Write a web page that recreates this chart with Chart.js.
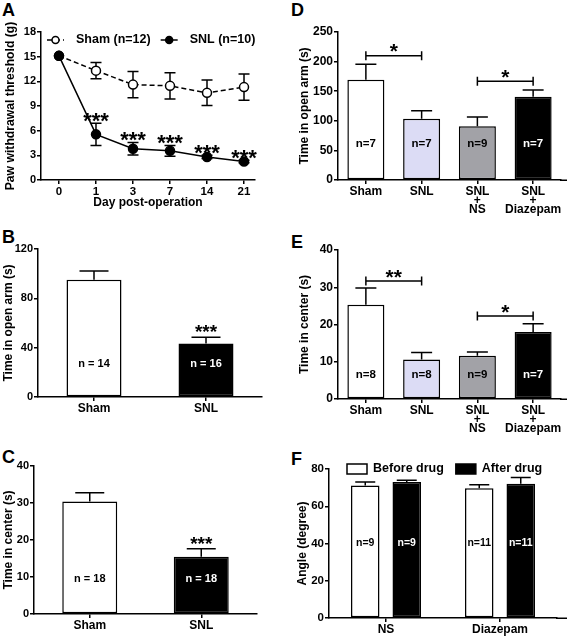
<!DOCTYPE html>
<html><head><meta charset="utf-8">
<script src="https://cdn.jsdelivr.net/npm/chart.js@4.4.1/dist/chart.umd.min.js"></script>
<style>
html,body{margin:0;padding:0;background:#fff;}
body{width:567px;height:637px;position:relative;overflow:hidden;}
canvas{position:absolute;}
.lt{position:absolute;font:bold 18px "Liberation Sans",Arial,sans-serif;line-height:18px;color:#000;}
</style></head><body>
<div class="lt" style="left:2px;top:1px">A</div>
<div class="lt" style="left:2px;top:228px">B</div>
<div class="lt" style="left:2px;top:448px">C</div>
<div class="lt" style="left:291px;top:1px">D</div>
<div class="lt" style="left:291px;top:233px">E</div>
<div class="lt" style="left:291px;top:450px">F</div>
<canvas id="cA" width="262" height="197" style="left:0;top:18px"></canvas>
<canvas id="cB" width="272" height="185" style="left:0;top:235px"></canvas>
<canvas id="cC" width="270" height="185" style="left:0;top:452px"></canvas>
<canvas id="cD" width="277" height="200" style="left:290px;top:18px"></canvas>
<canvas id="cE" width="277" height="202" style="left:290px;top:236px"></canvas>
<canvas id="cF" width="277" height="182" style="left:290px;top:455px"></canvas>
<script>
// ---------------- DATA ----------------
const dayLabels = ['0', '1', '3', '7', '14', '21'];
const shamPWT = [15.1, 13.3, 11.6, 11.45, 10.6, 11.3];
const shamPWTErr = [0, 1.0, 1.6, 1.6, 1.55, 1.6];
const snlPWT = [15.1, 5.55, 3.8, 3.55, 2.8, 2.25];
const snlPWTErr = [0, 1.35, 0.75, 0.65, 0.2, 0.15];
const snlPWTSig = ['', '***', '***', '***', '***', '***'];

const groupsBC = ['Sham', 'SNL'];
const openArmB = [95.1, 43.3];
const openArmBErr = [7.0, 5.2];
const nB = ['n = 14', 'n = 16'];
const sigB = ['', '***'];

const centerC = [30.4, 15.5];
const centerCErr = [2.4, 2.15];
const nC = ['n = 18', 'n = 18'];
const sigC = ['', '***'];

const groupsDE = [['Sham'], ['SNL'], ['SNL', '+', 'NS'], ['SNL', '+', 'Diazepam']];
const openArmD = [169.5, 103.6, 90.7, 140.8];
const openArmDErr = [25.9, 13.5, 15.7, 11.2];
const nD = ['n=7', 'n=7', 'n=9', 'n=7'];
const compD = [[0, 1, '*'], [2, 3, '*']];

const centerE = [25.3, 10.6, 11.6, 18.0];
const centerEErr = [4.5, 1.9, 1.0, 2.2];
const nE = ['n=8', 'n=8', 'n=9', 'n=7'];
const compE = [[0, 1, '**'], [2, 3, '*']];

const groupsF = ['NS', 'Diazepam'];
const beforeF = [71.2, 69.6];
const beforeFErr = [1.8, 1.9];
const afterF = [73.0, 72.1];
const afterFErr = [0.9, 3.4];
const nBeforeF = ['n=9', 'n=11'];
const nAfterF = ['n=9', 'n=11'];

// ---------------- STYLE ----------------
const FONT = '"Liberation Sans", Arial, sans-serif';
Chart.defaults.font.family = FONT;
Chart.defaults.font.weight = 'bold';
Chart.defaults.color = '#000';
Chart.defaults.animation = false;
Chart.defaults.plugins.legend.display = false;
Chart.defaults.plugins.tooltip.enabled = false;
const LW = 1.5;
const barColorsDE = ['#ffffff', '#dcdcf5', '#a2a2a7', '#000000'];

const annot = {
  id: 'annot',
  beforeDatasetsDraw(chart, args, o) {
    const ctx = chart.ctx, ys = chart.scales.y;
    ctx.save();
    ctx.strokeStyle = '#000'; ctx.lineWidth = LW;
    if (o.extendX) {
      const yb = Math.round(chart.chartArea.bottom) + 0.25;
      ctx.beginPath(); ctx.moveTo(chart.chartArea.right - 1, yb); ctx.lineTo(chart.width, yb); ctx.stroke();
    }
    chart.data.datasets.forEach((ds, di) => {
      if (!ds.errors) return;
      chart.getDatasetMeta(di).data.forEach((el, i) => {
        const e = ds.errors[i]; if (!e) return;
        const raw = ds.data[i]; const v = typeof raw === 'object' ? raw.y : raw;
        const yt = ys.getPixelForValue(v + e);
        const yb = ys.getPixelForValue(o.both ? v - e : v);
        const h = o.cap / 2;
        ctx.beginPath();
        ctx.moveTo(el.x, yb); ctx.lineTo(el.x, yt);
        ctx.moveTo(el.x - h, yt); ctx.lineTo(el.x + h, yt);
        if (o.both) { ctx.moveTo(el.x - h, yb); ctx.lineTo(el.x + h, yb); }
        ctx.stroke();
      });
    });
    ctx.restore();
  },
  afterDatasetsDraw(chart, args, o) {
    const ctx = chart.ctx, ys = chart.scales.y, xs = chart.scales.x;
    ctx.save();
    chart.data.datasets.forEach((ds, di) => {
      const meta = chart.getDatasetMeta(di);
      meta.data.forEach((el, i) => {
        const raw = ds.data[i]; const v = typeof raw === 'object' ? raw.y : raw;
        if (ds.nLabels) {
          const bg = Array.isArray(ds.backgroundColor) ? ds.backgroundColor[i] : ds.backgroundColor;
          ctx.font = 'bold ' + o.nSize + 'px ' + FONT;
          ctx.fillStyle = (bg === '#000000' || bg === '#000') ? '#fff' : '#000';
          ctx.textAlign = 'center'; ctx.textBaseline = 'middle';
          ctx.fillText(ds.nLabels[i], el.x, ys.getPixelForValue(o.nAt));
        }
        if (ds.sig && ds.sig[i]) {
          const top = ys.getPixelForValue(v + (ds.errors ? ds.errors[i] : 0));
          ctx.font = 'bold ' + o.sigSize + 'px ' + FONT;
          ctx.fillStyle = '#000'; ctx.textAlign = 'center'; ctx.textBaseline = 'alphabetic';
          ctx.fillText(ds.sig[i], el.x, top - o.sigGap + 0.56 * o.sigSize);
        }
      });
    });
    (o.brackets || []).forEach((b, k) => {
      const x1 = xs.getPixelForValue(b[0]), x2 = xs.getPixelForValue(b[1]);
      const y = ys.getPixelForValue(o.levels[k]);
      ctx.strokeStyle = '#000'; ctx.lineWidth = LW;
      ctx.beginPath();
      ctx.moveTo(x1, y); ctx.lineTo(x2, y);
      ctx.moveTo(x1, y - 4.5); ctx.lineTo(x1, y + 4.5);
      ctx.moveTo(x2, y - 4.5); ctx.lineTo(x2, y + 4.5);
      ctx.stroke();
      ctx.font = 'bold ' + o.sigSize + 'px ' + FONT;
      ctx.fillStyle = '#000'; ctx.textAlign = 'center'; ctx.textBaseline = 'alphabetic';
      ctx.fillText(b[2], (x1 + x2) / 2, y - 9 + 0.56 * o.sigSize);
    });
    if (o.legend) {
      const L = o.legend;
      let x = chart.chartArea.left + L.x0;
      const y = chart.chartArea.top + L.dy;
      ctx.font = 'bold ' + L.size + 'px ' + FONT;
      chart.data.datasets.forEach(ds => {
        ctx.strokeStyle = '#000'; ctx.lineWidth = LW;
        if (L.kind === 'line') {
          ctx.setLineDash(ds.borderDash || []);
          ctx.beginPath(); ctx.moveTo(x, y); ctx.lineTo(x + L.sw, y); ctx.stroke();
          ctx.setLineDash([]);
          ctx.beginPath(); ctx.arc(x + L.sw / 2, y, L.r, 0, Math.PI * 2);
          ctx.fillStyle = ds.pointBackgroundColor; ctx.fill(); ctx.stroke();
        } else {
          ctx.fillStyle = ds.backgroundColor;
          ctx.fillRect(x, y - L.bh / 2, L.sw, L.bh);
          ctx.strokeRect(x, y - L.bh / 2, L.sw, L.bh);
        }
        x += L.sw + L.gap;
        ctx.fillStyle = '#000'; ctx.textAlign = 'left'; ctx.textBaseline = 'middle';
        ctx.fillText(ds.label, x, y);
        x += ctx.measureText(ds.label).width + L.gap2;
      });
    }
    ctx.restore();
  }
};

// geometry helper: canvas box (cx,cy,cw,ch) and plot box (L,T,R,B) in page px
function geo(g) {
  return {
    padding: { left: 0, top: g.T - g.cy, right: g.cx + g.cw - g.R, bottom: 0 },
    yw: g.L - g.cx,
    xh: g.cy + g.ch - g.B
  };
}
function yAxis(min, max, step, title, tsize, titleX, g, tickSize) {
  const lh = tsize * 1.2;
  return {
    type: 'linear', position: 'left', min: min, max: max,
    ticks: { stepSize: step, font: { size: tickSize || 11 }, padding: 1 },
    grid: { drawOnChartArea: false, drawTicks: true, tickLength: 4, color: '#000', lineWidth: LW },
    border: { display: true, color: '#000', width: LW },
    title: { display: true, text: title, font: { size: tsize }, padding: { top: titleX - g.cx - lh / 2, bottom: 0 } },
    afterFit: s => { s.width = g.L - g.cx; }
  };
}
function xCat(g, size) {
  return {
    type: 'category', offset: true,
    grid: { drawOnChartArea: false, drawTicks: true, tickLength: 4, color: '#000', lineWidth: LW, offset: false },
    border: { display: true, color: '#000', width: LW },
    ticks: { font: { size: size || 12, lineHeight: '9px' }, padding: 3, maxRotation: 0, autoSkip: false },
    afterFit: s => { s.height = g.cy + g.ch - g.B; }
  };
}

// ---------------- PANEL A ----------------
(function () {
  const g = { cx: 0, cy: 18, cw: 262, ch: 197, L: 41, T: 32, R: 255, B: 180 };
  const G = geo(g);
  new Chart(document.getElementById('cA'), {
    type: 'line',
    data: {
      datasets: [
        {
          label: 'Sham (n=12)', data: shamPWT.map((v, i) => ({ x: i, y: v })), errors: shamPWTErr, order: 1,
          borderColor: '#000', borderWidth: LW, borderDash: [5, 3], tension: 0,
          pointRadius: 4.5, pointBorderWidth: LW, pointBackgroundColor: '#ffffff', pointBorderColor: '#000'
        },
        {
          label: 'SNL (n=10)', data: snlPWT.map((v, i) => ({ x: i, y: v })), errors: snlPWTErr, sig: snlPWTSig, order: 0,
          borderColor: '#000', borderWidth: LW, tension: 0,
          pointRadius: 4.5, pointBorderWidth: LW, pointBackgroundColor: '#000000', pointBorderColor: '#000'
        }
      ]
    },
    options: {
      responsive: false, layout: { padding: G.padding },
      scales: {
        x: {
          type: 'linear', min: -0.486, max: 5.297,
          afterBuildTicks: s => { s.ticks = dayLabels.map((d, i) => ({ value: i })); },
          ticks: { callback: v => dayLabels[v], font: { size: 11.5, lineHeight: '9px' }, padding: 3, maxRotation: 0 },
          grid: { drawOnChartArea: false, drawTicks: true, tickLength: 4, color: '#000', lineWidth: LW },
          border: { display: true, color: '#000', width: LW },
          title: { display: true, text: 'Day post-operation', font: { size: 12 }, padding: { top: 0, bottom: 215 - 203 - 7.2 } },
          afterFit: s => { s.height = G.xh; }
        },
        y: yAxis(0, 18, 3, 'Paw withdrawal threshold (g)', 12.2, 11, g, 11)
      },
      plugins: {
        annot: {
          both: true, cap: 11, sigSize: 22, sigGap: 8,
          legend: { kind: 'line', x0: 6, dy: 8, sw: 17, r: 3.5, gap: 12, gap2: 10, size: 12.5 }
        }
      }
    },
    plugins: [annot]
  });
})();

// ---------------- PANEL B ----------------
(function () {
  const g = { cx: 0, cy: 235, cw: 272, ch: 185, L: 38, T: 249, R: 262, B: 397 };
  const G = geo(g);
  new Chart(document.getElementById('cB'), {
    type: 'bar',
    data: {
      labels: groupsBC,
      datasets: [{
        data: openArmB, errors: openArmBErr, nLabels: nB, sig: sigB,
        backgroundColor: ['#ffffff', '#000000'], borderColor: '#000', borderWidth: LW, borderSkipped: false,
        categoryPercentage: 1, barPercentage: 0.491
      }]
    },
    options: {
      responsive: false, layout: { padding: G.padding },
      scales: { x: xCat(g), y: yAxis(0, 120, 40, 'Time in open arm (s)', 12, 9, g, 11) },
      plugins: { annot: { cap: 29, nAt: 26.8, nSize: 11, sigSize: 19, sigGap: 9.5 } }
    },
    plugins: [annot]
  });
})();

// ---------------- PANEL C ----------------
(function () {
  const g = { cx: 0, cy: 452, cw: 270, ch: 185, L: 34, T: 466, R: 257, B: 614 };
  const G = geo(g);
  new Chart(document.getElementById('cC'), {
    type: 'bar',
    data: {
      labels: groupsBC,
      datasets: [{
        data: centerC, errors: centerCErr, nLabels: nC, sig: sigC,
        backgroundColor: ['#ffffff', '#000000'], borderColor: '#000', borderWidth: LW, borderSkipped: false,
        categoryPercentage: 1, barPercentage: 0.493
      }]
    },
    options: {
      responsive: false, layout: { padding: G.padding },
      scales: { x: xCat(g), y: yAxis(0, 40, 10, 'Time in center (s)', 12, 8.5, g, 11) },
      plugins: { annot: { cap: 29, nAt: 9.5, nSize: 11, sigSize: 19, sigGap: 9.5 } }
    },
    plugins: [annot]
  });
})();

// ---------------- PANEL D ----------------
(function () {
  const g = { cx: 290, cy: 18, cw: 277, ch: 200, L: 338, T: 32, R: 561, B: 180 };
  const G = geo(g);
  new Chart(document.getElementById('cD'), {
    type: 'bar',
    data: {
      labels: groupsDE,
      datasets: [{
        data: openArmD, errors: openArmDErr, nLabels: nD,
        backgroundColor: barColorsDE, borderColor: '#000', borderWidth: LW, borderSkipped: false,
        categoryPercentage: 1, barPercentage: 0.664
      }]
    },
    options: {
      responsive: false, layout: { padding: G.padding },
      scales: { x: xCat(g), y: yAxis(0, 250, 50, 'Time in open arm (s)', 12, 305, g, 12) },
      plugins: { annot: { cap: 21, nAt: 61, nSize: 11.5, sigSize: 21, brackets: compD, levels: [210, 167], extendX: true } }
    },
    plugins: [annot]
  });
})();

// ---------------- PANEL E ----------------
(function () {
  const g = { cx: 290, cy: 236, cw: 277, ch: 202, L: 338, T: 250, R: 561, B: 399 };
  const G = geo(g);
  new Chart(document.getElementById('cE'), {
    type: 'bar',
    data: {
      labels: groupsDE,
      datasets: [{
        data: centerE, errors: centerEErr, nLabels: nE,
        backgroundColor: barColorsDE, borderColor: '#000', borderWidth: LW, borderSkipped: false,
        categoryPercentage: 1, barPercentage: 0.664
      }]
    },
    options: {
      responsive: false, layout: { padding: G.padding },
      scales: { x: xCat(g), y: yAxis(0, 40, 10, 'Time in center (s)', 12, 305, g, 12) },
      plugins: { annot: { cap: 21, nAt: 6.4, nSize: 11.5, sigSize: 21, brackets: compE, levels: [31.7, 22.3], extendX: true } }
    },
    plugins: [annot]
  });
})();

// ---------------- PANEL F ----------------
(function () {
  const g = { cx: 290, cy: 455, cw: 277, ch: 182, L: 329, T: 469, R: 557, B: 618 };
  const G = geo(g);
  new Chart(document.getElementById('cF'), {
    type: 'bar',
    data: {
      labels: groupsF,
      datasets: [
        {
          label: 'Before drug', data: beforeF, errors: beforeFErr, nLabels: nBeforeF,
          backgroundColor: '#ffffff', borderColor: '#000', borderWidth: LW, borderSkipped: false,
          categoryPercentage: 0.728, barPercentage: 0.687
        },
        {
          label: 'After drug', data: afterF, errors: afterFErr, nLabels: nAfterF,
          backgroundColor: '#000000', borderColor: '#000', borderWidth: LW, borderSkipped: false,
          categoryPercentage: 0.728, barPercentage: 0.687
        }
      ]
    },
    options: {
      responsive: false, layout: { padding: G.padding },
      scales: { x: xCat(g), y: yAxis(0, 80, 20, 'Angle (degree)', 12, 303, g, 11.5) },
      plugins: {
        annot: {
          cap: 20, nAt: 40.3, nSize: 10.5, extendX: true,
          legend: { kind: 'box', x0: 18, dy: 0, sw: 20, bh: 10, gap: 6, gap2: 12, size: 12.5 }
        }
      }
    },
    plugins: [annot]
  });
})();
</script>
</body></html>
